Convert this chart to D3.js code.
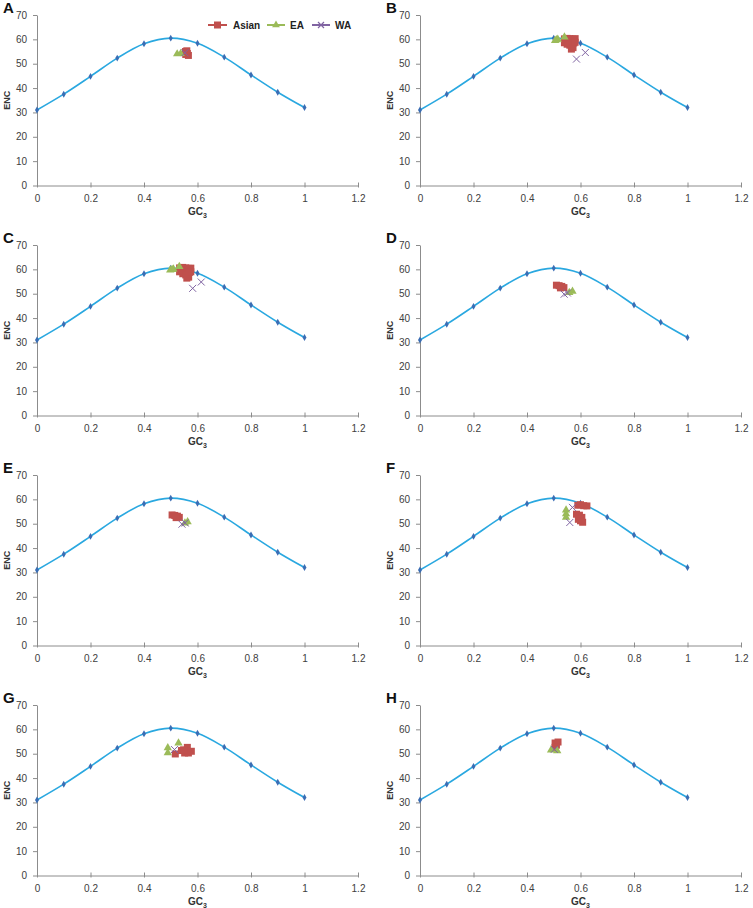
<!DOCTYPE html>
<html>
<head>
<meta charset="utf-8">
<script src="https://cdn.jsdelivr.net/npm/d3@7"></script>
<style>
  html, body { margin: 0; padding: 0; background: #fff; }
  svg { display: block; font-family: "Liberation Sans", Arial, sans-serif; }
</style>
</head>
<body>
<svg id="chart" width="753" height="908"></svg>
<script>
// ---- data ----
const panelLetters = ["A", "B", "C", "D", "E", "F", "G", "H"];
const xTickValues = [0, 0.2, 0.4, 0.6, 0.8, 1, 1.2];
const xTickLabels = ["0", "0.2", "0.4", "0.6", "0.8", "1", "1.2"];
const yTickValues = [0, 10, 20, 30, 40, 50, 60, 70];
const seriesNames = ["Asian", "EA", "WA"];

// expected ENC curve
const expectedGC3 = [0, 0.1, 0.2, 0.3, 0.4, 0.5, 0.6, 0.7, 0.8, 0.9, 1.0];
const expectedENC = [31, 37.5, 44.8, 52.3, 58.2, 60.5, 58.4, 52.7, 45.4, 38.3, 32];

// observed points: [GC3, ENC]
const asianA = [[0.555, 55], [0.562, 54.2], [0.566, 53.4], [0.556, 53.8], [0.56, 55.3]];
const eaA    = [[0.524, 54], [0.537, 54.2]];
const waA    = [[0.553, 54.5]];

const asianB = [[0.54, 60.2], [0.55, 60.4], [0.56, 60.3], [0.57, 60.1], [0.58, 60.3], [0.54, 58.6], [0.55, 58], [0.56, 57.6], [0.575, 58.5], [0.572, 56.6], [0.566, 56], [0.58, 58.8]];
const eaB    = [[0.505, 59.5], [0.515, 60], [0.54, 60.9], [0.51, 59.8]];
const waB    = [[0.585, 51.9], [0.618, 54.6]];

const asianC = [[0.533, 60.6], [0.545, 60.8], [0.556, 60.6], [0.566, 60.4], [0.575, 60.5], [0.533, 59], [0.545, 58.2], [0.556, 57.7], [0.57, 58.8], [0.567, 56.8], [0.56, 56.4], [0.575, 59]];
const eaC    = [[0.498, 59.7], [0.51, 60.1], [0.532, 61.1], [0.505, 59.9]];
const waC    = [[0.582, 52.2], [0.614, 54.8]];

const asianD = [[0.51, 53.5], [0.52, 53.3], [0.53, 53], [0.538, 52.5], [0.525, 52.4]];
const eaD    = [[0.57, 51], [0.558, 50.5]];
const waD    = [[0.539, 49.8], [0.551, 50.3]];

const asianE = [[0.505, 53.6], [0.515, 53.4], [0.525, 53.1], [0.532, 52.6], [0.52, 52.5]];
const eaE    = [[0.563, 50.8], [0.553, 50.3]];
const waE    = [[0.542, 49.8], [0.554, 50.3]];

const asianF = [[0.59, 57.6], [0.6, 57.8], [0.612, 57.4], [0.624, 57.3], [0.585, 53.9], [0.596, 53.5], [0.605, 52.6], [0.592, 51.8], [0.608, 50.6], [0.6, 51.2]];
const eaF    = [[0.546, 55.6], [0.546, 54], [0.546, 52.6]];
const waF    = [[0.57, 56.7], [0.56, 50.5]];

const asianG = [[0.517, 49.9], [0.54, 51.3], [0.562, 52.6], [0.577, 51], [0.552, 50.3], [0.566, 50.3], [0.548, 51.6]];
const eaG    = [[0.489, 52.4], [0.489, 50.4], [0.529, 54.4]];
const waG    = [[0.514, 51.7]];

const asianH = [[0.505, 54.4], [0.516, 54.8], [0.51, 53.5], [0.505, 52.6]];
const eaH    = [[0.49, 51.5], [0.513, 51.2]];
const waH    = [[0.502, 51.8]];

const panelAsian = [asianA, asianB, asianC, asianD, asianE, asianF, asianG, asianH];
const panelEA    = [eaA, eaB, eaC, eaD, eaE, eaF, eaG, eaH];
const panelWA    = [waA, waB, waC, waD, waE, waF, waG, waH];

// ---- layout / style ----
const colLeft = [37, 420];
const plotW = 321;
const rowTop = [15, 245, 475, 705];
const plotH = 170.5;
const colors = { curve: "#2aa8e0", diamond: "#3a6db4", Asian: "#c0504d", EA: "#9bbb59", WA: "#8064a2", axis: "#8c8c8c", text: "#404040" };

const svg = d3.select("#chart");

function drawPanel(i) {
  const col = i % 2, row = Math.floor(i / 2);
  const left = colLeft[col], top = rowTop[row];
  const x = d3.scaleLinear().domain([0, 1.2]).range([left, left + plotW]);
  const y = d3.scaleLinear().domain([0, 70]).range([top + plotH, top]);
  const g = svg.append("g");

  // panel letter
  g.append("text").attr("x", left - 34).attr("y", top - 2)
    .attr("font-size", 15).attr("font-weight", "bold").attr("fill", "#111")
    .text(panelLetters[i]);

  // axes
  const xAxis = d3.axisBottom(x).tickValues(xTickValues)
    .tickFormat((d, k) => xTickLabels[k]).tickSize(4).tickSizeOuter(0);
  const gx = g.append("g").attr("transform", `translate(0,${y(0)})`).call(xAxis);
  gx.select(".domain").attr("stroke", colors.axis);
  gx.selectAll(".tick line").attr("stroke", colors.axis).attr("y1", -3).attr("y2", 2);
  gx.selectAll(".tick text").attr("fill", colors.text).attr("font-size", 10)
    .attr("font-family", "Liberation Sans, Arial, sans-serif").attr("dy", "0.9em");

  const yAxis = d3.axisLeft(y).tickValues(yTickValues).tickSize(4).tickSizeOuter(0);
  const gy = g.append("g").attr("transform", `translate(${x(0)},0)`).call(yAxis);
  gy.select(".domain").attr("stroke", colors.axis);
  gy.selectAll(".tick line").attr("stroke", colors.axis);
  gy.selectAll(".tick text").attr("fill", colors.text).attr("font-size", 10)
    .attr("font-family", "Liberation Sans, Arial, sans-serif").attr("dx", "-0.3em");

  // axis titles
  const xt = g.append("text").attr("x", x(0.6)).attr("y", y(0) + 29)
    .attr("text-anchor", "middle").attr("font-size", 10).attr("font-weight", "bold").attr("fill", "#333");
  xt.append("tspan").text("GC");
  xt.append("tspan").attr("font-size", 7).attr("dy", 3).text("3");

  g.append("text").attr("transform", `translate(${left - 27},${y(35)}) rotate(-90)`)
    .attr("text-anchor", "middle").attr("font-size", 9).attr("font-weight", "bold").attr("fill", "#333")
    .text("ENC");

  // expected curve
  const pts = expectedGC3.map((d, k) => [d, expectedENC[k]]);
  const line = d3.line().x(d => x(d[0])).y(d => y(d[1])).curve(d3.curveCatmullRom.alpha(0.5));
  g.append("path").attr("d", line(pts)).attr("fill", "none")
    .attr("stroke", colors.curve).attr("stroke-width", 1.6);
  g.selectAll(".dia").data(pts).enter().append("path")
    .attr("transform", d => `translate(${x(d[0])},${y(d[1])})`)
    .attr("d", d3.symbol(d3.symbolDiamond, 14)())
    .attr("fill", colors.diamond);

  // observed
  g.selectAll(".sq").data(panelAsian[i]).enter().append("rect")
    .attr("x", d => x(d[0]) - 3.5).attr("y", d => y(d[1]) - 3.5)
    .attr("width", 7).attr("height", 7).attr("fill", colors.Asian);
  g.selectAll(".tri").data(panelEA[i]).enter().append("path")
    .attr("transform", d => `translate(${x(d[0])},${y(d[1])})`)
    .attr("d", d3.symbol(d3.symbolTriangle, 30)())
    .attr("fill", colors.EA);
  g.selectAll(".cr").data(panelWA[i]).enter().append("path")
    .attr("transform", d => `translate(${x(d[0])},${y(d[1])})`)
    .attr("d", "M-3.5,-3.5L3.5,3.5M-3.5,3.5L3.5,-3.5")
    .attr("stroke", colors.WA).attr("stroke-width", 1).attr("fill", "none");

  return { x, y, g };
}

const panels = panelLetters.map((_, i) => drawPanel(i));

// legend in panel A
(function () {
  const g = panels[0].g;
  const ly = 25;
  const items = [
    { name: seriesNames[0], x1: 208, x2: 227, tx: 233, color: colors.Asian, kind: "sq" },
    { name: seriesNames[1], x1: 267, x2: 285, tx: 290, color: colors.EA, kind: "tri" },
    { name: seriesNames[2], x1: 312, x2: 330, tx: 335, color: colors.WA, kind: "x" }
  ];
  items.forEach(it => {
    g.append("line").attr("x1", it.x1).attr("x2", it.x2).attr("y1", ly).attr("y2", ly)
      .attr("stroke", it.color).attr("stroke-width", 2);
    const cx = (it.x1 + it.x2) / 2;
    if (it.kind === "sq") {
      g.append("rect").attr("x", cx - 3.5).attr("y", ly - 3.5).attr("width", 7).attr("height", 7).attr("fill", it.color);
    } else if (it.kind === "tri") {
      g.append("path").attr("transform", `translate(${cx},${ly})`).attr("d", d3.symbol(d3.symbolTriangle, 26)()).attr("fill", it.color);
    } else {
      g.append("path").attr("transform", `translate(${cx},${ly})`).attr("d", "M-3,-3L3,3M-3,3L3,-3")
        .attr("stroke", it.color).attr("stroke-width", 1.2);
    }
    g.append("text").attr("x", it.tx).attr("y", ly + 3.5).attr("font-size", 10).attr("font-weight", "bold")
      .attr("fill", "#222").text(it.name);
  });
})();
</script>
</body>
</html>
